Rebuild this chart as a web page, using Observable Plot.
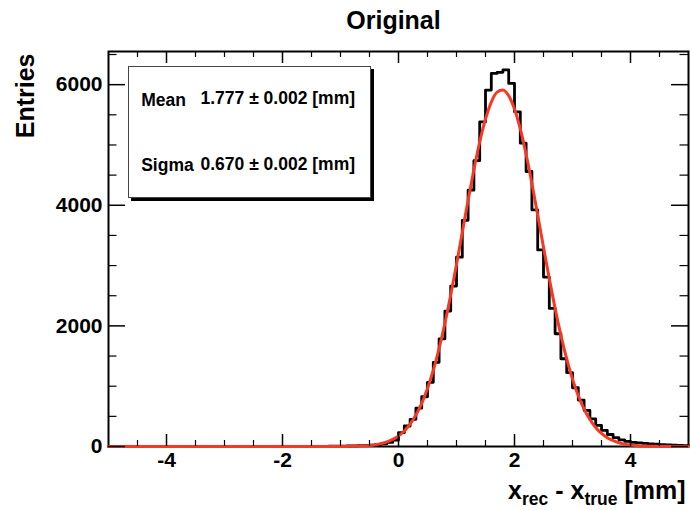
<!DOCTYPE html>
<html><head><meta charset="utf-8">
<script src="https://cdn.jsdelivr.net/npm/d3@7"></script>
<script src="https://cdn.jsdelivr.net/npm/@observablehq/plot@0.6"></script>
<style>
body{margin:0;background:#fff;}
#wrap{position:relative;width:690px;height:510px;}
#stats{position:absolute;left:128px;top:66px;width:241px;height:130px;border:1px solid #444;background:#fff;box-shadow:3px 3px 0 #000;}
</style></head><body><div id="wrap"><div id="stats"></div></div>
<script>
// ---- data ----
const binLow = -5, binWidth = 0.1;
const counts = [
  0,0,0,0,0,0,0,0,0,0,
  0,0,0,0,0,0,0,1,0,0,
  0,1,0,0,1,0,1,0,1,1,
  1,1,2,1,2,2,3,3,4,5,
  6,8,10,13,17,23,32,46,68,105,
  230,340,450,635,825,1065,1395,1785,2245,2660,
  3140,3750,4250,4740,5383,5910,6186,6205,6245,6020,
  5549,5030,4560,3925,3260,2810,2290,1870,1455,1225,
  974,770,598,459,349,266,199,146,111,85,
  70,60,52,45,38,32,27,22,18,15
];
const fitX = [-5,-1,-0.8,-0.6,-0.5,-0.4,-0.3,-0.2,-0.1,0,0.1,0.2,0.3,0.4,0.5,0.6,0.7,0.8,0.9,1.0,1.1,1.2,1.3,1.4,1.5,1.6,1.7,1.8,1.9,2.0,2.1,2.2,2.3,2.4,2.5,2.6,2.7,2.8,2.9,3.0,3.1,3.2,3.3,3.4,3.5,3.6,3.7,3.8,3.9,4.0,4.2,4.4,4.6,5];
const fitY = [0,1,4,11,18,30,48,76,117,176,258,371,521,716,962,1264,1625,2043,2512,3019,3550,4083,4591,5049,5431,5712,5876,5912,5816,5596,5266,4846,4362,3840,3304,2782,2290,1844,1452,1118,842,620,447,315,217,146,96,62,39,24,9,3,1,0];
const xMajorTicks = [-4,-2,0,2,4];
const xMinorTicks = [-4.5,-3.5,-3,-2.5,-1.5,-1,-0.5,0.5,1,1.5,2.5,3,3.5,4.5];
const yMajorTicks = [0,2000,4000,6000];
const yMinorTicks = [500,1000,1500,2500,3000,3500,4500,5000,5500,6500];
const titleText = "Original";
const yTitle = "Entries";
const statLabels = ["Mean","Sigma"];
const statValues = ["1.777 \u00b1 0.002 [mm]","0.670 \u00b1 0.002 [mm]"];

// ---- build tables ----
const hist = counts.map((c,i)=>({x: +(binLow + i*binWidth).toFixed(2), y: c}));
hist.push({x: 5, y: counts[counts.length-1]});
const fit = fitX.map((x,i)=>({x, y: fitY[i]}));

const FONT = '"Liberation Sans", Arial, Helvetica, sans-serif';
const W = 690, H = 510, ML = 108, MR = 2, MT = 51, MB = 64;
const iw = W - ML - MR, ih = H - MT - MB;
const RED = "#f73823";

// x-axis title pieces with subscripts
const ctx = document.createElement("canvas").getContext("2d");
function tw(t, s){ ctx.font = `bold ${s}px "Liberation Sans"`; return ctx.measureText(t).width; }
const xParts = [
  {t:"x", s:25, sub:0},
  {t:"rec", s:17.5, sub:6},
  {t:" - x", s:25, sub:0},
  {t:"true", s:17.5, sub:6},
  {t:" [mm]", s:25, sub:0}
];
const totalW = xParts.reduce((a,p)=>a+tw(p.t,p.s),0);
let cursor = 685 - totalW;
const xTitleMarks = xParts.map(p=>{
  const trimmed = p.t.replace(/^ +/,"");
  const lead = tw(p.t,p.s) - tw(trimmed,p.s);
  const xpos = cursor + lead;
  cursor += tw(p.t,p.s);
  return Plot.text([trimmed], {frameAnchor:"bottom-right", text:d=>d, textAnchor:"start", lineAnchor:"bottom",
    dx: xpos - (W-MR), dy: 52 + p.sub, fontSize:p.s, fontWeight:"bold", fontFamily:FONT, fill:"#000"});
});

const fmt = d => (d < 0 ? "-" + Math.abs(d) : String(d));
const statFont = 17.5;

const plot = Plot.plot({
  width: W, height: H,
  marginLeft: ML, marginRight: MR, marginTop: MT, marginBottom: MB,
  style: {background: "transparent", fontFamily: FONT},
  x: {domain: [-5, 5], label: null},
  y: {domain: [0, 6550], label: null},
  marks: [
    Plot.frame({stroke:"#000", strokeWidth:2}),
    Plot.line(hist, {x:"x", y:"y", curve:"step-after", stroke:"#000", strokeWidth:2.8}),
    Plot.line(fit, {x:"x", y:"y", curve:"monotone-x", stroke:RED, strokeWidth:3}),
    Plot.tickX(xMajorTicks, {x:d=>d, insetTop: ih-12, stroke:"#000", strokeWidth:1.5}),
    Plot.tickX(xMajorTicks, {x:d=>d, insetBottom: ih-12, stroke:"#000", strokeWidth:1.5}),
    Plot.tickX(xMinorTicks, {x:d=>d, insetTop: ih-6, stroke:"#000", strokeWidth:1.2}),
    Plot.tickX(xMinorTicks, {x:d=>d, insetBottom: ih-6, stroke:"#000", strokeWidth:1.2}),
    Plot.tickY(yMajorTicks, {y:d=>d, insetRight: iw-17, stroke:"#000", strokeWidth:1.5}),
    Plot.tickY(yMajorTicks, {y:d=>d, insetLeft: iw-17, stroke:"#000", strokeWidth:1.5}),
    Plot.tickY(yMinorTicks, {y:d=>d, insetRight: iw-8.5, stroke:"#000", strokeWidth:1.2}),
    Plot.tickY(yMinorTicks, {y:d=>d, insetLeft: iw-8.5, stroke:"#000", strokeWidth:1.2}),
    Plot.axisX(xMajorTicks, {anchor:"bottom", tickSize:0, tickPadding:6, fontSize:21, fontWeight:"bold", fontFamily:FONT, tickFormat:fmt, label:null, fill:"#000"}),
    Plot.axisY(yMajorTicks, {anchor:"left", tickSize:0, tickPadding:6, fontSize:21, fontWeight:"bold", fontFamily:FONT, tickFormat:fmt, label:null, fill:"#000"}),
    Plot.text([titleText], {frameAnchor:"top", text:d=>d, lineAnchor:"bottom", dx:-5, dy:-23, fontSize:25, fontWeight:"bold", fontFamily:FONT, fill:"#000"}),
    Plot.text([yTitle], {frameAnchor:"top-left", text:d=>d, rotate:-90, textAnchor:"end", lineAnchor:"bottom", dx:-75, dy:2, fontSize:25, fontWeight:"bold", fontFamily:FONT, fill:"#000"}),
    ...xTitleMarks,
    Plot.text([statLabels[0]], {frameAnchor:"top-left", text:d=>d, textAnchor:"start", lineAnchor:"bottom", dx:32.7, dy:54, fontSize:statFont, fontWeight:"bold", fontFamily:FONT, fill:"#000"}),
    Plot.text([statValues[0]], {frameAnchor:"top-left", text:d=>d, textAnchor:"start", lineAnchor:"bottom", dx:92, dy:52.5, fontSize:statFont, fontWeight:"bold", fontFamily:FONT, fill:"#000"}),
    Plot.text([statLabels[1]], {frameAnchor:"top-left", text:d=>d, textAnchor:"start", lineAnchor:"bottom", dx:32.7, dy:119, fontSize:statFont, fontWeight:"bold", fontFamily:FONT, fill:"#000"}),
    Plot.text([statValues[1]], {frameAnchor:"top-left", text:d=>d, textAnchor:"start", lineAnchor:"bottom", dx:92, dy:118, fontSize:statFont, fontWeight:"bold", fontFamily:FONT, fill:"#000"})
  ]
});
plot.style.position = "relative";
document.getElementById("wrap").appendChild(plot);
</script></body></html>
